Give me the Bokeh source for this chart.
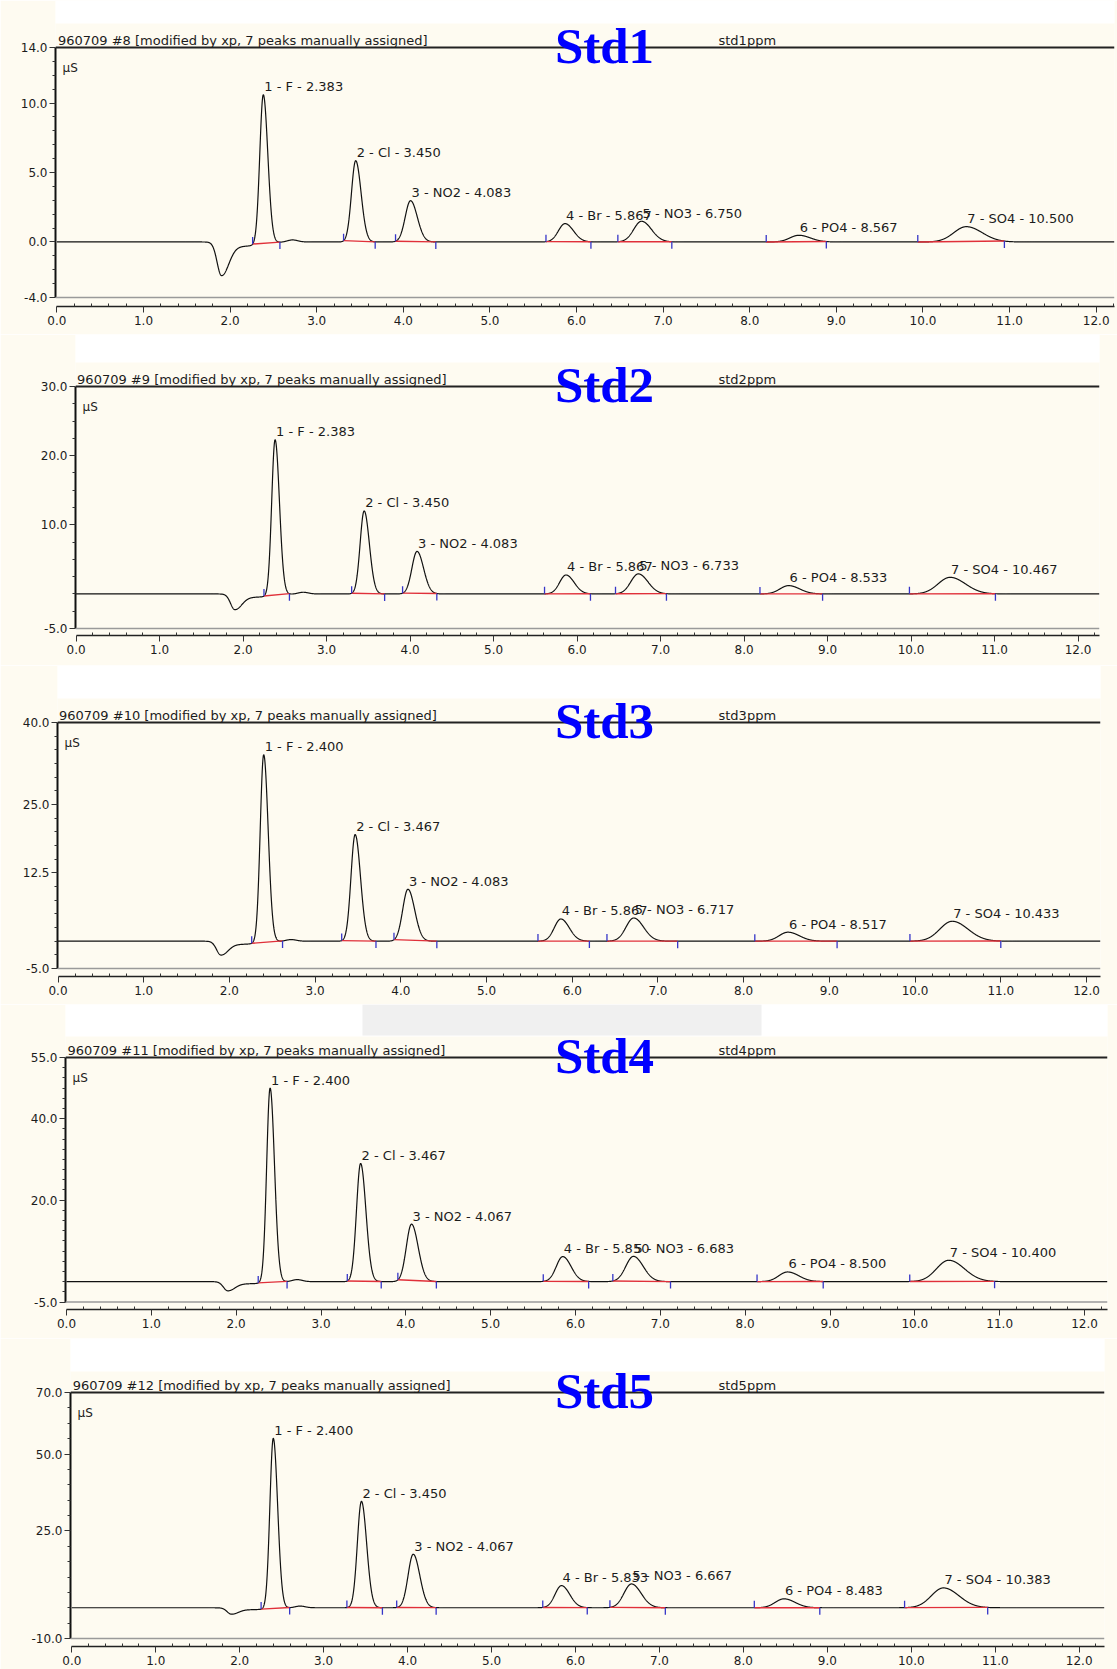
import numpy as np
from bokeh.plotting import figure
from bokeh.models import (Range1d, FixedTicker, NumeralTickFormatter,
                          Label, BoxAnnotation, Span, ColumnDataSource)
from bokeh.layouts import column
from bokeh.embed import file_html
from bokeh.resources import INLINE
from bokeh.core.properties import value

# ------------------------------------------------------------------ data
panel_names = ["Std1", "Std2", "Std3", "Std4", "Std5"]
run_headers = [
    "960709 #8 [modified by xp, 7 peaks manually assigned]",
    "960709 #9 [modified by xp, 7 peaks manually assigned]",
    "960709 #10 [modified by xp, 7 peaks manually assigned]",
    "960709 #11 [modified by xp, 7 peaks manually assigned]",
    "960709 #12 [modified by xp, 7 peaks manually assigned]",
]
sample_names = ["std1ppm", "std2ppm", "std3ppm", "std4ppm", "std5ppm"]
ions = ["F", "Cl", "NO2", "Br", "NO3", "PO4", "SO4"]

# retention times (min), as labelled
ret_std1 = [2.383, 3.450, 4.083, 5.867, 6.750, 8.567, 10.500]
ret_std2 = [2.383, 3.450, 4.083, 5.867, 6.733, 8.533, 10.467]
ret_std3 = [2.400, 3.467, 4.083, 5.867, 6.717, 8.517, 10.433]
ret_std4 = [2.400, 3.467, 4.067, 5.850, 6.683, 8.500, 10.400]
ret_std5 = [2.400, 3.450, 4.067, 5.833, 6.667, 8.483, 10.383]

# peak heights (uS)
height_std1 = [10.6, 5.85, 2.97, 1.32, 1.49, 0.48, 1.10]
height_std2 = [22.3, 12.0, 6.15, 2.74, 2.90, 1.20, 2.40]
height_std3 = [34.1, 19.5, 9.5, 4.06, 4.24, 1.64, 3.64]
height_std4 = [47.5, 29.0, 14.1, 6.14, 6.20, 2.37, 5.24]
height_std5 = [55.1, 34.6, 17.4, 7.20, 7.74, 2.90, 6.45]

# integration start / end marks (min)
start_std1 = [2.26, 3.31, 3.91, 5.647, 6.477, 8.19, 9.94]
end_std1 = [2.575, 3.675, 4.375, 6.166, 7.10, 8.884, 10.94]
start_std2 = [2.25, 3.30, 3.91, 5.61, 6.46, 8.19, 9.98]
end_std2 = [2.555, 3.695, 4.32, 6.16, 7.07, 8.94, 11.01]
start_std3 = [2.26, 3.31, 3.92, 5.60, 6.405, 8.13, 9.94]
end_std3 = [2.62, 3.71, 4.42, 6.20, 7.23, 9.09, 11.00]
start_std4 = [2.26, 3.31, 3.906, 5.62, 6.44, 8.14, 9.94]
end_std4 = [2.60, 3.71, 4.36, 6.155, 7.12, 8.92, 10.94]
start_std5 = [2.255, 3.277, 3.87, 5.61, 6.41, 8.13, 9.92]
end_std5 = [2.595, 3.70, 4.34, 6.14, 7.07, 8.91, 10.91]

# peak widths (sigma, min) for the 7 anions
peak_sigma = [0.045, 0.054, 0.068, 0.085, 0.100, 0.115, 0.160]

# water dip / baseline disturbance near the void volume (uS)
water_dip = [-2.35, -2.16, -2.40, -2.13, -1.94]
drift_level = [-0.30, -0.45, -0.55, -0.50, -0.60]
hump_level = [0.15, 0.25, 0.30, 0.50, 0.55]

# axis ticks
y_ticks_std1 = [-4.0, 0.0, 5.0, 10.0, 14.0]
y_ticks_std2 = [-5.0, 10.0, 20.0, 30.0]
y_ticks_std3 = [-5.0, 12.5, 25.0, 40.0]
y_ticks_std4 = [-5.0, 20.0, 40.0, 55.0]
y_ticks_std5 = [-10.0, 25.0, 50.0, 70.0]
y_minor_step = [1.0, 2.5, 2.5, 2.5, 5.0]
x_ticks = [0.0, 1.0, 2.0, 3.0, 4.0, 5.0, 6.0, 7.0, 8.0, 9.0, 10.0, 11.0, 12.0]

rets = [ret_std1, ret_std2, ret_std3, ret_std4, ret_std5]
heights = [height_std1, height_std2, height_std3, height_std4, height_std5]
starts = [start_std1, start_std2, start_std3, start_std4, start_std5]
ends = [end_std1, end_std2, end_std3, end_std4, end_std5]
y_ticks = [y_ticks_std1, y_ticks_std2, y_ticks_std3, y_ticks_std4, y_ticks_std5]

# ------------------------------------------------------------------ layout (canvas px)
W = 1117
geom = [
    # top, height, frame top line, x-axis line, y of lowest tick, x0 px, x12 px, beige box (l, t, r, b)
    dict(T=0, H=334, FT=47, FB=306, PY=297.0, X0=56.4, X12=1095.7, box=(8, 23, 1114, 333)),
    dict(T=334, H=331, FT=386, FB=635, PY=628.0, X0=75.6, X12=1077.6, box=(21, 362, 1099, 665)),
    dict(T=665, H=339, FT=722, FB=976, PY=968.0, X0=57.5, X12=1086.0, box=(8, 698, 1100, 1003)),
    dict(T=1004, H=334, FT=1057, FB=1309, PY=1301.5, X0=66.0, X12=1084.0, box=(15, 1036, 1107, 1338)),
    dict(T=1338, H=331, FT=1392, FB=1646, PY=1638.0, X0=71.3, X12=1078.7, box=(21, 1371, 1104, 1669)),
]
BEIGE = "#FEFBF1"
TXT = "#1c1c1c"


def asym(t, c, a, sl, sr):
    s = np.where(t < c, sl, sr)
    return a * np.exp(-0.5 * ((t - c) / s) ** 2)


def background(t, i):
    return (asym(t, 1.90, water_dip[i], 0.05, 0.085)
            + asym(t, 2.15, drift_level[i], 0.15, 0.20)
            + asym(t, 2.72, hump_level[i], 0.06, 0.06))


def signal(t, i):
    t = np.asarray(t, dtype=float)
    y = background(t, i)
    for k in range(len(ions)):
        amp = heights[i][k] - float(background(np.array([rets[i][k]]), i)[0])
        y = y + asym(t, rets[i][k], amp, 0.9 * peak_sigma[k], 1.15 * peak_sigma[k])
    return y


figs = []
for i, g in enumerate(geom):
    yt = y_ticks[i]
    ymin, ymax = yt[0], yt[-1]
    ppu = (g["PY"] - g["FT"]) / (ymax - ymin)
    y_start = ymin - (g["FB"] - g["PY"]) / ppu
    y_end = ymax + (g["FT"] - g["T"]) / ppu
    ppx = (g["X12"] - g["X0"]) / 12.0
    FL = int(round(g["X0"])) - 1
    FR = g["box"][2]
    x_start = (FL - g["X0"]) / ppx
    x_end = (FR - g["X0"]) / ppx

    p = figure(width=W, height=g["H"], x_range=Range1d(x_start, x_end),
               y_range=Range1d(y_start, y_end), output_backend="svg",
               toolbar_location=None, min_border_left=FL, min_border_right=W - FR,
               min_border_top=0, min_border_bottom=g["T"] + g["H"] - g["FB"],
               background_fill_color=BEIGE, border_fill_color=BEIGE)
    p.frame_align = False
    p.outline_line_color = None
    p.grid.visible = False

    def sx(X):
        return X - FL

    def sy(Y):
        return g["FB"] - Y

    # white gap above the beige panel
    p.add_layout(BoxAnnotation(left=-100, right=2000, top=sy(g["T"]) + 10, bottom=sy(g["box"][1]),
                               left_units="screen", right_units="screen",
                               top_units="screen", bottom_units="screen",
                               fill_color="white", fill_alpha=1.0, line_color=None,
                               level="underlay"))
    if i == 3:
        p.add_layout(BoxAnnotation(left=sx(362), right=sx(761), top=sy(1004), bottom=sy(1035),
                                   left_units="screen", right_units="screen",
                                   top_units="screen", bottom_units="screen",
                                   fill_color="#F0F0F0", fill_alpha=1.0, line_color=None,
                                   level="underlay"))

    # axes
    yax = p.yaxis[0]
    minor_y = [v for v in np.arange(ymin, ymax + 1e-9, y_minor_step[i]) if v not in yt]
    yax.ticker = FixedTicker(ticks=yt, minor_ticks=minor_y)
    yax.formatter = NumeralTickFormatter(format="0.0")
    yax.bounds = (ymin, ymax)
    yax.axis_line_width = 2
    yax.axis_line_color = "#111111"
    yax.major_tick_out = 6
    yax.major_tick_in = 0
    yax.minor_tick_out = 3
    yax.minor_tick_in = 0
    yax.major_tick_line_color = "#333333"
    yax.minor_tick_line_color = "#333333"
    yax.major_label_standoff = 2
    yax.major_label_text_font = "DejaVu Sans"
    yax.major_label_text_font_size = "12px"
    yax.major_label_text_color = TXT

    xax = p.xaxis[0]
    minor_x = [round(v, 1) for v in np.arange(0, 12.31, 0.2) if abs(v - round(v)) > 1e-6]
    xax.ticker = FixedTicker(ticks=x_ticks, minor_ticks=minor_x)
    xax.formatter = NumeralTickFormatter(format="0.0")
    xax.bounds = (0, x_end)
    xax.axis_line_width = 1.5
    xax.axis_line_color = "#222222"
    xax.major_tick_out = 6
    xax.major_tick_in = 0
    xax.minor_tick_out = 0
    xax.minor_tick_in = 3
    xax.major_tick_line_color = "#333333"
    xax.minor_tick_line_color = "#333333"
    xax.major_label_standoff = 3
    xax.major_label_text_font = "DejaVu Sans"
    xax.major_label_text_font_size = "12px"
    xax.major_label_text_color = TXT

    # frame lines: dark top, light grey bottom
    p.add_layout(Span(location=ymax, dimension="width", line_color="#222222", line_width=2))
    p.add_layout(Span(location=ymin, dimension="width", line_color="#9a9a9a", line_width=1.5))

    # chromatogram trace
    tt = np.arange(0.0, x_end, 0.0025)
    p.line(tt, signal(tt, i), line_color="#111111", line_width=1.2)

    # integration baselines and marks
    st = np.array(starts[i])
    en = np.array(ends[i])
    ys = signal(st, i)
    ye = signal(en, i)
    dy = 7.0 / ppu
    p.segment(x0=st, y0=ys, x1=en, y1=ye, line_color="#E0303A", line_width=1.4)
    p.segment(x0=st, y0=ys, x1=st, y1=ys + dy, line_color="#3535C8", line_width=1.3)
    p.segment(x0=en, y0=ye, x1=en, y1=ye - dy, line_color="#3535C8", line_width=1.3)

    # peak labels
    labels = ["%d - %s - %.3f" % (k + 1, ions[k], rets[i][k]) for k in range(len(ions))]
    src = ColumnDataSource(dict(x=rets[i], y=heights[i], text=labels))
    p.text(x="x", y="y", text="text", source=src, x_offset=1, y_offset=-8,
           text_font=value("DejaVu Sans"), text_font_size="13px", text_color=TXT,
           text_align="left", text_baseline="alphabetic")

    # texts around the frame
    p.add_layout(Label(x=sx(g["X0"] + 1), y=sy(g["FT"] - 7.5), x_units="screen", y_units="screen",
                       text=run_headers[i], text_font="DejaVu Sans", text_font_size="13px",
                       text_color=TXT, text_baseline="alphabetic", text_align="left"))
    p.add_layout(Label(x=sx(718), y=sy(g["FT"] - 7.5), x_units="screen", y_units="screen",
                       text=sample_names[i], text_font="DejaVu Sans", text_font_size="13px",
                       text_color=TXT, text_baseline="alphabetic", text_align="left"))
    p.add_layout(Label(x=sx(FL + 7), y=sy(g["FT"] + 20), x_units="screen", y_units="screen",
                       text="µS", text_font="DejaVu Sans", text_font_size="12px",
                       text_color=TXT, text_baseline="alphabetic", text_align="left"))
    p.add_layout(Label(x=sx(604), y=sy(g["FT"] - 1.5), x_units="screen", y_units="screen",
                       text=panel_names[i], text_font="Liberation Serif", text_font_style="bold",
                       text_font_size="51px", text_color="#0000FF",
                       text_baseline="alphabetic", text_align="center"))
    figs.append(p)

layout = column(*figs, spacing=0)
open("out.html", "w").write(file_html(layout, INLINE))
